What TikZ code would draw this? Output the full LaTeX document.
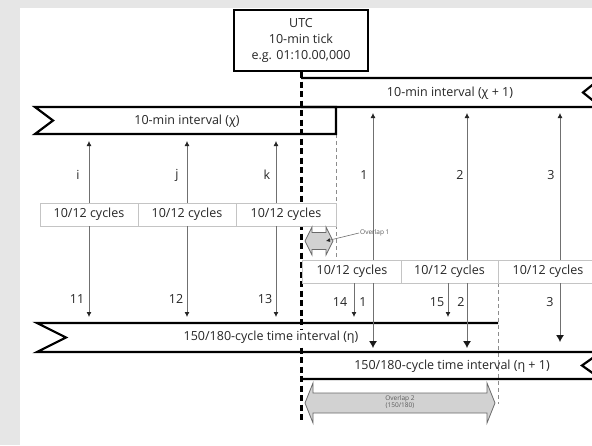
\documentclass[tikz,border=0pt]{standalone}
\usepackage{fontspec}
\setmainfont{Open Sans}
\usepackage{tikz}
\usetikzlibrary{arrows.meta,calc}
\definecolor{bggray}{HTML}{E6E6E6}
\definecolor{linegray}{HTML}{707070}
\definecolor{boxgray}{HTML}{C4C4C4}
\definecolor{ovfill}{HTML}{D2D2D2}
\definecolor{ovline}{HTML}{6A6A6A}
\definecolor{txt}{HTML}{262626}

\begin{document}
\begin{tikzpicture}[x=1pt,y=-1pt,line join=miter,
  banner/.style={line width=2.2pt},
  bantext/.style={text=txt,font=\fontsize{12.5}{14}\selectfont},
  cyclebox/.style={draw=boxgray,fill=white,line width=0.7pt,minimum height=23pt,inner sep=0pt,text=txt,font=\fontsize{12.5}{14}\selectfont},
  lab/.style={text=txt,font=\fontsize{12.5}{14}\selectfont,inner sep=0pt},
  arr/.style={draw=linegray,line width=0.8pt,-{Latex[length=5pt,width=5pt,color=black!85]}},
  bigarr/.style={draw=linegray,line width=0.9pt,-{Latex[length=7pt,width=8pt,color=black!90]}},
  tickline/.style={line width=3pt,dash pattern=on 6pt off 3.5pt},
  thindash/.style={draw=black!45,line width=0.8pt,dash pattern=on 4pt off 3pt},
  overlap/.style={fill=ovfill,draw=ovline,line width=0.8pt},
  ovtext/.style={text=black!65,font=\fontsize{6.5}{7}\selectfont}]
  \useasboundingbox (0,0) rectangle (592,445);
  \clip (0,0) rectangle (592,445);
  \fill[bggray] (0,0) rectangle (592,445);
  \fill[white] (20,8) rectangle (592,445);

  \node[draw,line width=2pt,minimum width=134pt,minimum height=61pt,align=center,inner sep=0pt,
    text=txt,font=\fontsize{12.5}{16}\selectfont] (utc) at (301,40.5) {UTC\\10-min tick\\e.g. 01:10.00,000};
  \coordinate (tickend) at (301,421);
  \draw[tickline] (utc.south) -- (tickend);

  \coordinate (chiR) at (336,134);
  \coordinate (chiE) at (336,259);
  \coordinate (etaR) at (498,283);
  \coordinate (etaE) at (498,404);
  \draw[thindash] (chiR) -- (chiE);
  \draw[thindash] (etaR) -- (etaE);

  \draw[banner] (336,107) -- (35,107) -- (53,120.5) -- (35,134) -- (336,134) -- cycle;
  \draw[banner] (301,78) -- (601,78) -- (583,92.5) -- (601,107) -- (301,107);
  \draw[banner] (498,323) -- (37,323) -- (66,337.5) -- (37,352) -- (601,352) -- (582,365.5) -- (601,379) -- (301,379);
  \node[bantext] (chi) at (187,121) {10-min interval (χ)};
  \node[bantext] (chinext) at (450,93) {10-min interval (χ + 1)};
  \node[bantext,fill=white,inner ysep=1pt,inner xsep=0pt] (eta) at (271,337.5) {150/180-cycle time interval (η)};
  \node[bantext] (etanext) at (452,366) {150/180-cycle time interval (η + 1)};

  \node[cyclebox,minimum width=98pt] (u1) at (89,214.5) {10/12 cycles};
  \node[cyclebox,minimum width=98pt] (u2) at (187,214.5) {10/12 cycles};
  \node[cyclebox,minimum width=100pt] (u3) at (286,214.5) {10/12 cycles};
  \node[cyclebox,minimum width=99pt] (d1) at (352,271.5) {10/12 cycles};
  \node[cyclebox,minimum width=97pt] (d2) at (449.5,271.5) {10/12 cycles};
  \node[cyclebox,minimum width=100pt] (d3) at (548,271.5) {10/12 cycles};

  \coordinate (ki) at (89,141);
  \coordinate (kj) at (187,141);
  \coordinate (kb) at (276,203);
  \coordinate (kt) at (276,141);
  \draw[arr] (u1.north) -- (ki);
  \draw[arr] (u2.north) -- (kj);
  \draw[arr] (kb) -- (kt);
  \coordinate (n11) at (89,317);
  \coordinate (n12) at (187,317);
  \coordinate (n13b) at (276,226);
  \coordinate (n13) at (276,317);
  \draw[arr] (u1.south) -- (n11);
  \draw[arr] (u2.south) -- (n12);
  \draw[arr] (n13b) -- (n13);

  \coordinate (o1b) at (373,260);
  \coordinate (o1t) at (373,113);
  \coordinate (o2b) at (467,260);
  \coordinate (o2t) at (467,113);
  \coordinate (o3b) at (560,260);
  \coordinate (o3t) at (560,113);
  \draw[arr] (o1b) -- (o1t);
  \draw[arr] (o2b) -- (o2t);
  \draw[arr] (o3b) -- (o3t);
  \coordinate (n14b) at (354,283);
  \coordinate (n14) at (354,317);
  \coordinate (n15b) at (448,283);
  \coordinate (n15) at (448,317);
  \draw[arr] (n14b) -- (n14);
  \draw[arr] (n15b) -- (n15);
  \coordinate (m1b) at (373,283);
  \coordinate (m1) at (373,348);
  \coordinate (m2b) at (467,283);
  \coordinate (m2) at (467,348);
  \coordinate (m3b) at (560,283);
  \coordinate (m3) at (560,342);
  \draw[bigarr] (m1b) -- (m1);
  \draw[bigarr] (m2b) -- (m2);
  \draw[bigarr] (m3b) -- (m3);

  \node[lab] (li) at (78,175) {i};
  \node[lab] (lj) at (177,175) {j};
  \node[lab] (lk) at (267,175) {k};
  \node[lab] (lo1) at (364,175) {1};
  \node[lab] (lo2) at (460,175) {2};
  \node[lab] (lo3) at (551,175) {3};
  \node[lab] (l11) at (77,299) {11};
  \node[lab] (l12) at (176,299) {12};
  \node[lab] (l13) at (265,299) {13};
  \node[lab] (l14) at (340,302) {14};
  \node[lab] (lm1) at (363,302) {1};
  \node[lab] (l15) at (437,302) {15};
  \node[lab] (lm2) at (461,302) {2};
  \node[lab] (lm3) at (550,302) {3};

  \draw[overlap] (305,241) -- (312,227) -- (312,232.5) -- (326,232.5) -- (326,227) -- (333,241)
    -- (326,255) -- (326,249.5) -- (312,249.5) -- (312,255) -- cycle;
  \node[ovtext,inner sep=1pt,anchor=west] (ov1) at (359,233) {Overlap 1};
  \coordinate (ov1tip) at (326,241);
  \draw[draw=linegray,line width=0.6pt,-{Latex[length=4pt,width=4pt,color=black!85]}] (ov1.west) -- (ov1tip);

  \draw[overlap] (305,403) -- (313,383) -- (313,393) -- (487,393) -- (487,383) -- (495,403)
    -- (487,423) -- (487,413) -- (313,413) -- (313,423) -- cycle;
  \node[ovtext,align=center,inner sep=0pt] (ov2) at (400,402) {Overlap 2\\(150/180)};
\end{tikzpicture}
\end{document}
